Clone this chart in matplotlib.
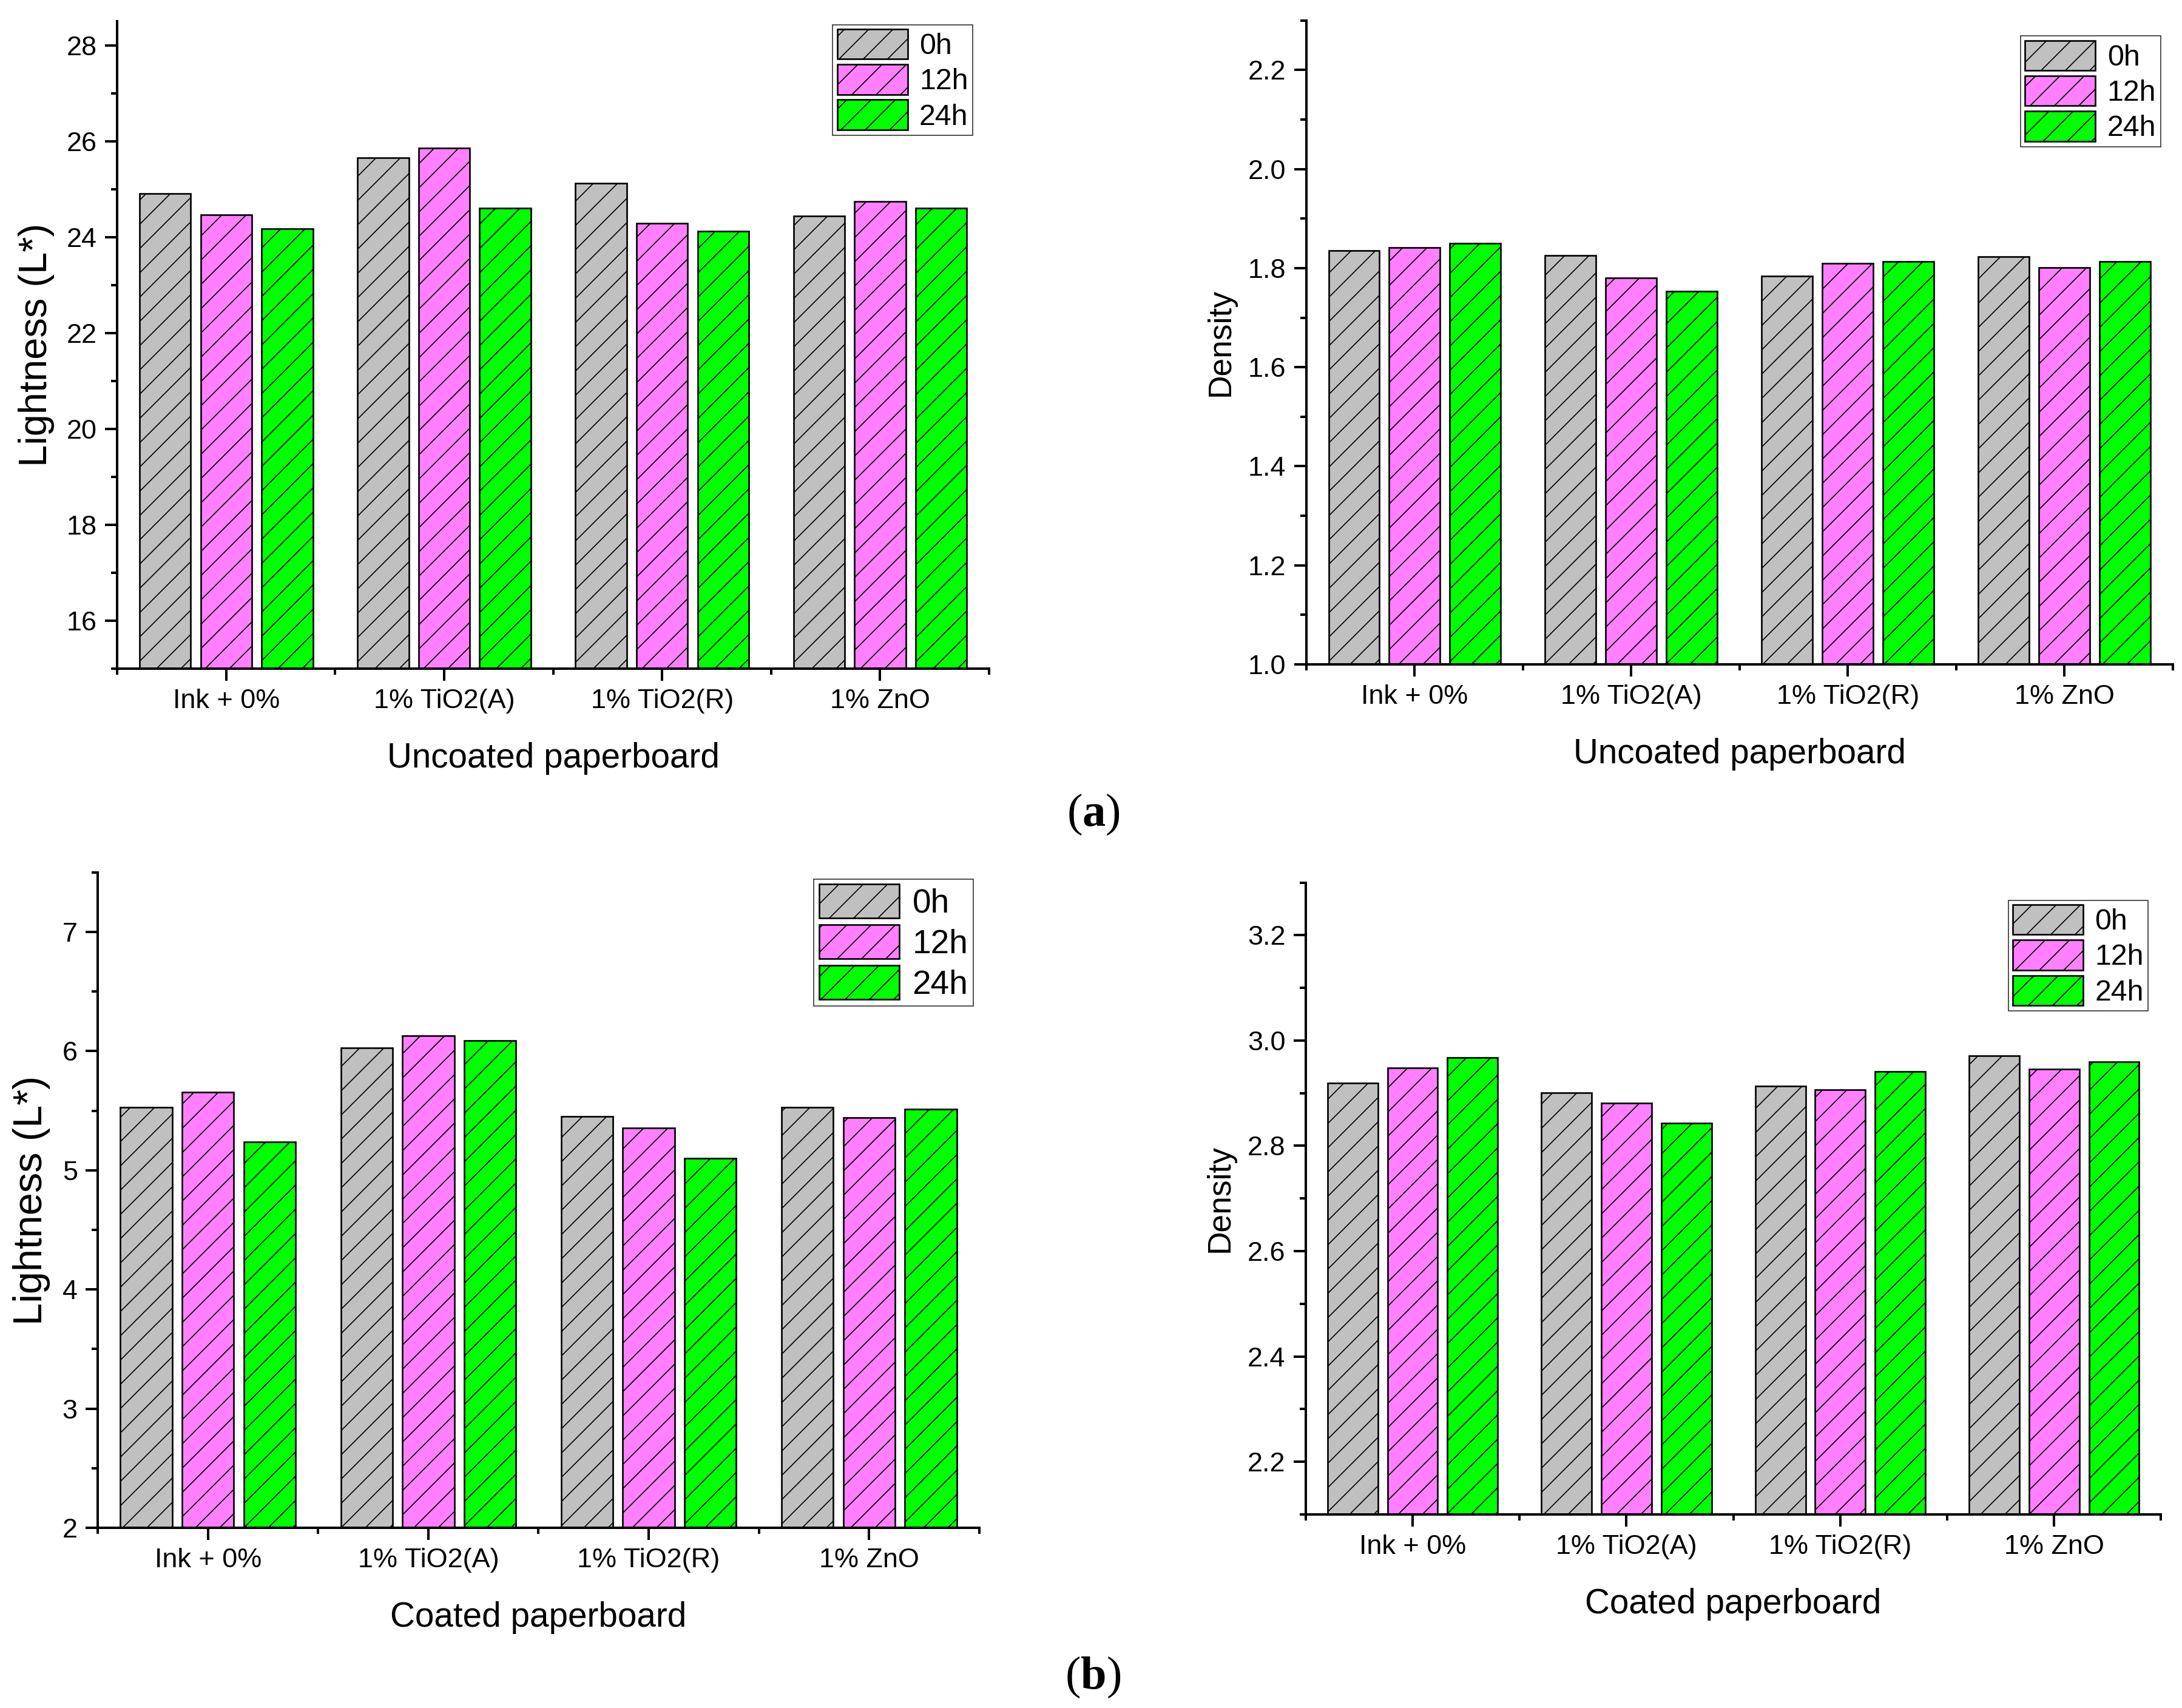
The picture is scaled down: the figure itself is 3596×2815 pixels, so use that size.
import numpy as np
import matplotlib
matplotlib.use("Agg")
import matplotlib.pyplot as plt
from matplotlib import font_manager
from matplotlib.ticker import MultipleLocator, FormatStrFormatter, FixedLocator

# pick a narrow sans if available (Origin-style Arial Narrow look)
names = {f.name for f in font_manager.fontManager.ttflist}
if "Liberation Sans Narrow" in names:
    SANS = ["Liberation Sans Narrow", "Liberation Sans", "DejaVu Sans"]
else:
    SANS = ["Liberation Sans", "DejaVu Sans"]
plt.rcParams["font.family"] = SANS
plt.rcParams["hatch.linewidth"] = 1.0
plt.rcParams["mathtext.fontset"] = "custom"
plt.rcParams["mathtext.bf"] = "Liberation Serif:bold"
plt.rcParams["mathtext.rm"] = "Liberation Serif"

# ---- data ----
categories = ["Ink + 0%", "1% TiO2(A)", "1% TiO2(R)", "1% ZnO"]
series_names = ["0h", "12h", "24h"]
colors = ["#C0C0C0", "#FF80FF", "#00FF00"]

# (a) uncoated paperboard
unc_light_0h = [24.91, 25.65, 25.13, 24.44]
unc_light_12h = [24.46, 25.86, 24.29, 24.75]
unc_light_24h = [24.18, 24.61, 24.12, 24.61]

unc_dens_0h = [1.836, 1.826, 1.784, 1.823]
unc_dens_12h = [1.842, 1.780, 1.810, 1.801]
unc_dens_24h = [1.850, 1.753, 1.814, 1.813]

# (b) coated paperboard
coa_light_0h = [5.53, 6.03, 5.45, 5.53]
coa_light_12h = [5.655, 6.13, 5.355, 5.44]
coa_light_24h = [5.24, 6.09, 5.10, 5.515]

coa_dens_0h = [2.919, 2.901, 2.913, 2.971]
coa_dens_12h = [2.948, 2.881, 2.907, 2.946]
coa_dens_24h = [2.968, 2.843, 2.941, 2.959]


def bar_panel(ax, series, ylim, major, fmt, ylabel, xlabel, leg_anchor,
              ylabel_size=34, leg_size=29):
    x = np.arange(1, len(categories) + 1)
    width = 0.235
    step = 0.28
    for i, vals in enumerate(series):
        ax.bar(x + (i - 1) * step, vals, width, color=colors[i], edgecolor="black",
               linewidth=1.6, hatch="/", label=series_names[i], zorder=2)
    ax.set_xlim(0.5, 4.5)
    ax.set_ylim(*ylim)
    ax.set_xticks(x)
    ax.set_xticklabels(categories)
    ax.xaxis.set_minor_locator(FixedLocator(np.arange(0.5, 4.6, 1.0)))
    ax.yaxis.set_major_locator(MultipleLocator(major))
    ax.yaxis.set_minor_locator(MultipleLocator(major / 2))
    ax.yaxis.set_major_formatter(FormatStrFormatter(fmt))
    for s in ["top", "right"]:
        ax.spines[s].set_visible(False)
    for s in ["left", "bottom"]:
        ax.spines[s].set_linewidth(2.4)
    ax.tick_params(which="major", direction="out", length=12, width=2.4, labelsize=27, pad=8)
    ax.tick_params(which="minor", direction="out", length=6, width=2.4)
    ax.set_ylabel(ylabel, fontsize=ylabel_size, labelpad=12)
    ax.set_xlabel(xlabel, fontsize=34, labelpad=28)
    leg = ax.legend(loc="upper right", bbox_to_anchor=leg_anchor, fontsize=leg_size,
                    frameon=True, fancybox=False, edgecolor="black",
                    handlelength=2.4, handleheight=1.2, labelspacing=0.15,
                    borderpad=0.15, borderaxespad=0.0, handletextpad=0.4)
    leg.get_frame().set_linewidth(1.0)


fig = plt.figure(figsize=(3596 / 120, 2815 / 120), dpi=120)

ax1 = fig.add_axes([0.0537, 0.6085, 0.3996, 0.379])
bar_panel(ax1, [unc_light_0h, unc_light_12h, unc_light_24h], (15, 28.5), 2, "%d",
          "Lightness (L*)", "Uncoated paperboard", (0.981, 0.995), ylabel_size=39)

ax2 = fig.add_axes([0.5987, 0.611, 0.397, 0.377])
bar_panel(ax2, [unc_dens_0h, unc_dens_12h, unc_dens_24h], (1.0, 2.3), 0.2, "%.1f",
          "Density", "Uncoated paperboard", (0.986, 0.976), ylabel_size=32)

ax3 = fig.add_axes([0.0448, 0.1055, 0.404, 0.3837])
bar_panel(ax3, [coa_light_0h, coa_light_12h, coa_light_24h], (2, 7.5), 1, "%d",
          "Lightness (L*)", "Coated paperboard", (0.993, 0.990), ylabel_size=40,
          leg_size=33)

ax4 = fig.add_axes([0.5984, 0.1133, 0.392, 0.370])
bar_panel(ax4, [coa_dens_0h, coa_dens_12h, coa_dens_24h], (2.1, 3.3), 0.2, "%.1f",
          "Density", "Coated paperboard", (0.985, 0.972), ylabel_size=32)

serif = ["Liberation Serif", "DejaVu Serif"]
fig.text(0.501, 0.5233, r"($\mathbf{a}$)", ha="center", va="center", fontsize=46,
         family=serif)
fig.text(0.501, 0.018, r"($\mathbf{b}$)", ha="center", va="center", fontsize=46,
         family=serif)

fig.savefig("out.png", dpi=120, facecolor="white")
